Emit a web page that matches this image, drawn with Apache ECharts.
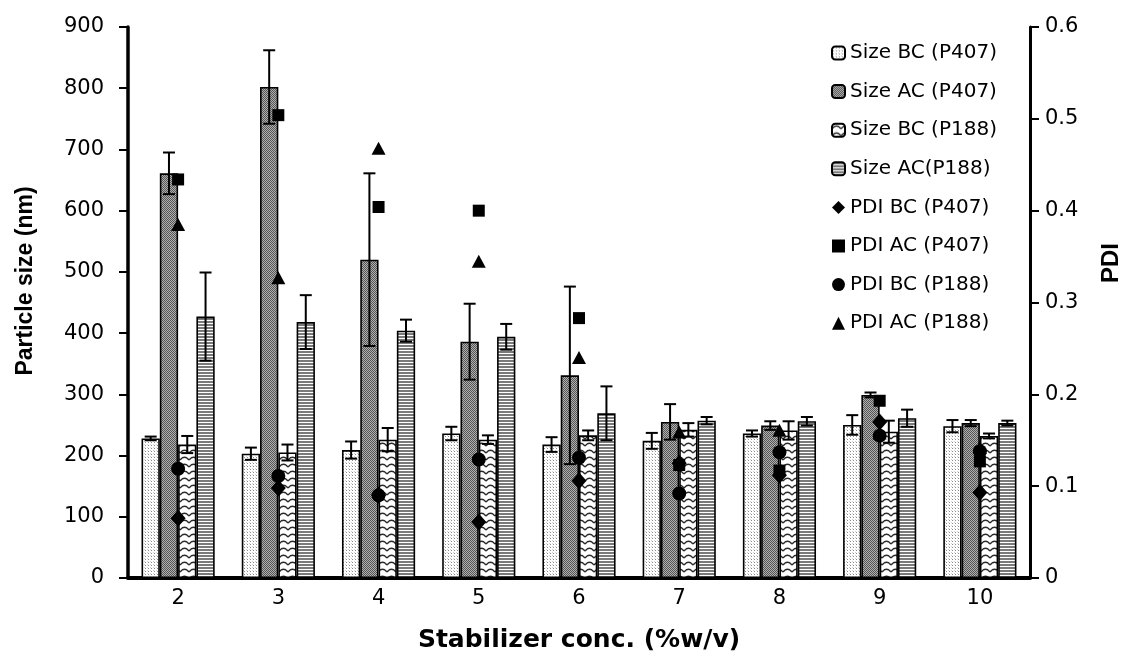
<!DOCTYPE html>
<html>
<head>
<meta charset="utf-8">
<title>Particle size and PDI vs stabilizer concentration</title>
<script src="https://cdn.jsdelivr.net/npm/echarts@6/dist/echarts.min.js"></script>
<style>
  html, body { margin: 0; padding: 0; background: #fff; }
  #chart { width: 1136px; height: 662px; }
</style>
</head>
<body>
<div id="chart"></div>
<script>
// Stabilizer concentration (%w/v)
const categories = ['2', '3', '4', '5', '6', '7', '8', '9', '10'];

// Particle size (nm), before (BC) and after (AC) cycling
const sizeBC407 = [228, 203, 209, 236, 218, 224, 236, 250, 248];
const sizeAC407 = [661, 802, 520, 386, 331, 255, 249, 299, 253];
const sizeBC188 = [218, 205, 226, 226, 233, 242, 241, 239, 232];
const sizeAC188 = [427, 418, 404, 394, 269, 257, 256, 261, 253];

// Standard deviations of particle size (nm)
const errBC407 = [3, 10, 14, 11, 12, 13, 5, 16, 10];
const errAC407 = [34, 60, 141, 62, 145, 29, 7, 4, 5];
const errBC188 = [14, 13, 19, 7, 8, 11, 15, 18, 4];
const errAC188 = [72, 44, 18, 21, 44, 6, 7, 14, 4];

// Polydispersity index
const pdiBC407 = [0.065, 0.098, 0.090, 0.061, 0.106, 0.125, 0.112, 0.170, 0.093];
const pdiAC407 = [0.434, 0.504, 0.404, 0.400, 0.283, 0.123, 0.117, 0.193, 0.127];
const pdiBC188 = [0.119, 0.111, 0.090, 0.129, 0.131, 0.092, 0.137, 0.155, 0.138];
const pdiAC188 = [0.385, 0.327, 0.468, 0.345, 0.240, 0.159, 0.161, 0.158, 0.142];

// Axis ranges
const sizeTicks = { min: 0, max: 900, interval: 100 };
const pdiTicks = { min: 0, max: 0.6, interval: 0.1 };

// ---- fill patterns for the bars ----
function makeTile(w, h, draw) {
  const c = document.createElement('canvas');
  c.width = w; c.height = h;
  const ctx = c.getContext('2d');
  draw(ctx, w, h);
  return { image: c, repeat: 'repeat' };
}
// fine dots on white
const patDots = makeTile(3, 3, (ctx) => {
  ctx.fillStyle = '#ffffff'; ctx.fillRect(0, 0, 3, 3);
  ctx.fillStyle = '#8a8a8a'; ctx.fillRect(1, 1, 1, 1);
  ctx.fillStyle = '#d2d2d2'; ctx.fillRect(0, 0, 1, 1);
});
// dark dithered grey
const patDither = makeTile(2, 2, (ctx) => {
  ctx.fillStyle = '#b0b0b0'; ctx.fillRect(0, 0, 2, 2);
  ctx.fillStyle = '#555555'; ctx.fillRect(0, 0, 1, 1); ctx.fillRect(1, 1, 1, 1);
});
// waves on white
const patWave = makeTile(9, 7, (ctx) => {
  ctx.fillStyle = '#ffffff'; ctx.fillRect(0, 0, 9, 7);
  ctx.strokeStyle = '#2a2a2a'; ctx.lineWidth = 1.4;
  ctx.beginPath();
  ctx.moveTo(0, 5); ctx.quadraticCurveTo(4.5, -0.5, 9, 5);
  ctx.stroke();
});
// horizontal stripes
const patStripes = makeTile(4, 3, (ctx) => {
  ctx.fillStyle = '#ffffff'; ctx.fillRect(0, 0, 4, 3);
  ctx.fillStyle = '#7a7a7a'; ctx.fillRect(0, 0, 4, 2);
});

const barNames = ['Size BC (P407)', 'Size AC (P407)', 'Size BC (P188)', 'Size AC(P188)'];
const barValues = [sizeBC407, sizeAC407, sizeBC188, sizeAC188];
const barErrors = [errBC407, errAC407, errBC188, errAC188];
const barFills = [patDots, patDither, patWave, patStripes];
const CATEGORY_GAP = 0.27;

const series = [];
barNames.forEach((name, k) => {
  series.push({
    name: name,
    type: 'bar',
    data: barValues[k],
    barGap: '0%',
    barCategoryGap: (CATEGORY_GAP * 100) + '%',
    itemStyle: { color: barFills[k], borderColor: '#000', borderWidth: 1.6 },
    z: 2
  });
});

// error bars drawn on top of each bar column
barNames.forEach((name, k) => {
  series.push({
    type: 'custom',
    name: name + ' err',
    xAxisIndex: 0,
    yAxisIndex: 0,
    data: barValues[k].map((v, i) => [i, v, barErrors[k][i]]),
    encode: { x: 0, y: 1 },
    z: 3,
    silent: true,
    renderItem: function (params, api) {
      const ci = api.value(0), v = api.value(1), e = api.value(2);
      const band = api.size([1, 0])[0];
      const bw = band * (1 - CATEGORY_GAP) / 4;
      const x = api.coord([ci, v])[0] + (k - 1.5) * bw;
      const yTop = api.coord([ci, v + e])[1];
      const yBot = api.coord([ci, v - e])[1];
      const cap = 6;
      const st = { stroke: '#000', lineWidth: 2 };
      return {
        type: 'group',
        children: [
          { type: 'line', shape: { x1: x, y1: yTop, x2: x, y2: yBot }, style: st },
          { type: 'line', shape: { x1: x - cap, y1: yTop, x2: x + cap, y2: yTop }, style: st },
          { type: 'line', shape: { x1: x - cap, y1: yBot, x2: x + cap, y2: yBot }, style: st }
        ]
      };
    }
  });
});

const pdiNames = ['PDI BC (P407)', 'PDI AC (P407)', 'PDI BC (P188)', 'PDI AC (P188)'];
const pdiValues = [pdiBC407, pdiAC407, pdiBC188, pdiAC188];
const pdiSymbols = ['diamond', 'rect', 'circle', 'triangle'];
const pdiSizes = [[15, 17], 12, 14, [14, 13]];
pdiNames.forEach((name, k) => {
  series.push({
    name: name,
    type: 'scatter',
    yAxisIndex: 1,
    data: pdiValues[k],
    symbol: pdiSymbols[k],
    symbolSize: pdiSizes[k],
    itemStyle: { color: '#000', opacity: 1 },
    z: 4
  });
});

const tickFont = { fontFamily: 'DejaVu Sans', fontSize: 21, color: '#000' };

const chart = echarts.init(document.getElementById('chart'), null, { renderer: 'canvas' });
chart.setOption({
  animation: false,
  backgroundColor: '#fff',
  grid: { left: 128, right: 106, top: 27, bottom: 84, containLabel: false },
  legend: {
    data: barNames.concat(pdiNames),
    orient: 'vertical',
    left: 826,
    top: 38,
    itemWidth: 13,
    itemHeight: 13,
    itemGap: 18.6,
    textStyle: { fontFamily: 'DejaVu Sans', fontSize: 20, color: '#000', lineHeight: 20 },
    selectedMode: false
  },
  xAxis: {
    type: 'category',
    data: categories,
    name: 'Stabilizer conc. (%w/v)',
    nameLocation: 'middle',
    nameGap: 50,
    nameTextStyle: { fontFamily: 'DejaVu Sans', fontWeight: 'bold', fontSize: 25, color: '#000' },
    axisLine: { lineStyle: { color: '#000', width: 4 } },
    axisTick: { alignWithLabel: true, length: 7, lineStyle: { color: '#000', width: 2.5 } },
    axisLabel: Object.assign({ margin: 10 }, tickFont),
    splitLine: { show: false }
  },
  yAxis: [
    {
      type: 'value',
      min: sizeTicks.min, max: sizeTicks.max, interval: sizeTicks.interval,
      axisLine: { show: true, lineStyle: { color: '#000', width: 3.5 } },
      axisTick: { show: true, length: 9, lineStyle: { color: '#000', width: 2 } },
      axisLabel: Object.assign({ margin: 24 }, tickFont),
      splitLine: { show: false }
    },
    {
      type: 'value',
      position: 'right',
      min: pdiTicks.min, max: pdiTicks.max, interval: pdiTicks.interval,
      axisLine: { show: true, lineStyle: { color: '#000', width: 3 } },
      axisTick: { show: true, length: 9, lineStyle: { color: '#000', width: 2 } },
      axisLabel: Object.assign({ margin: 15 }, tickFont),
      splitLine: { show: false }
    }
  ],
  graphic: [
    {
      type: 'text', x: 26, y: 281, rotation: Math.PI / 2,
      style: {
        text: 'Particle size (nm)', fill: '#000',
        font: 'bold 23px "Liberation Sans", Arial, sans-serif',
        align: 'center', verticalAlign: 'middle'
      }
    },
    {
      type: 'text', x: 1111, y: 263, rotation: Math.PI / 2,
      style: {
        text: 'PDI', fill: '#000',
        font: 'bold 24px "Liberation Sans", Arial, sans-serif',
        align: 'center', verticalAlign: 'middle'
      }
    }
  ],
  series: series
});
</script>
</body>
</html>
